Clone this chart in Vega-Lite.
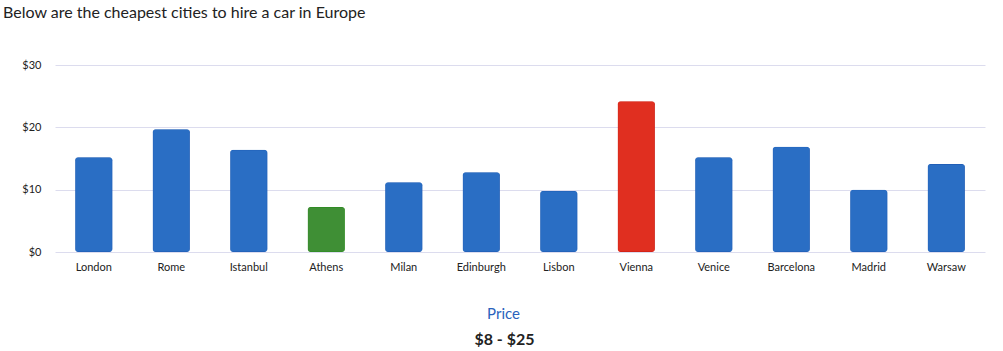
{
  "$schema": "https://vega.github.io/schema/vega-lite/v6.json",
  "width": 930,
  "height": 187,
  "padding": {"left": 3, "top": 5, "right": 18, "bottom": 0},
  "title": {"text": "Below are the cheapest cities to hire a car in Europe", "anchor": "start", "frame": "group", "dx": -52, "font": "Lato", "fontSize": 16, "fontWeight": "normal", "color": "#222222", "offset": 38},
  "data": {"values": [
    {"city": "London", "price": 15.2, "group": "normal"},
    {"city": "Rome", "price": 19.7, "group": "normal"},
    {"city": "Istanbul", "price": 16.4, "group": "normal"},
    {"city": "Athens", "price": 7.2, "group": "cheapest"},
    {"city": "Milan", "price": 11.2, "group": "normal"},
    {"city": "Edinburgh", "price": 12.8, "group": "normal"},
    {"city": "Lisbon", "price": 9.8, "group": "normal"},
    {"city": "Vienna", "price": 24.2, "group": "priciest"},
    {"city": "Venice", "price": 15.2, "group": "normal"},
    {"city": "Barcelona", "price": 16.9, "group": "normal"},
    {"city": "Madrid", "price": 10.0, "group": "normal"},
    {"city": "Warsaw", "price": 14.1, "group": "normal"}
  ]},
  "config": {"view": {"stroke": null}, "font": "Lato"},
  "layer": [
    {
      "mark": {"type": "bar", "cornerRadius": 3, "strokeWidth": 1},
      "encoding": {
        "x": {"field": "city", "type": "nominal", "sort": null,
          "scale": {"paddingInner": 0.52, "paddingOuter": 0.26},
          "axis": {"orient": "bottom", "labelAngle": 0, "labelFont": "Lato", "labelFontSize": 11, "labelColor": "#222222", "labelPadding": 9, "ticks": false, "domain": false,
            "title": "Price", "titleFont": "Lato", "titleFontSize": 15, "titleFontWeight": "normal", "titleColor": "#2a62bd", "titlePadding": 34, "titleX": 448}},
        "y": {"field": "price", "type": "quantitative", "scale": {"domain": [0, 30]},
          "axis": {"values": [0, 10, 20, 30], "format": "$,.0f", "title": null, "domain": false, "ticks": false, "labelPadding": 14, "labelFont": "Lato", "labelFontSize": 11, "labelColor": "#222222", "gridColor": "#dcdcee", "gridWidth": 1}},
        "color": {"field": "group", "type": "nominal", "legend": null,
          "scale": {"domain": ["normal", "cheapest", "priciest"], "range": ["#2a6ec4", "#3f8f35", "#e02f20"]}},
        "stroke": {"field": "group", "type": "nominal", "legend": null,
          "scale": {"domain": ["normal", "cheapest", "priciest"], "range": ["#1c58b0", "#2a8a1c", "#c81a10"]}}
      }
    },
    {
      "mark": {"type": "bar", "opacity": 0},
      "encoding": {
        "x": {"field": "city", "type": "nominal", "sort": null,
          "axis": {"orient": "bottom", "offset": 79, "labels": false, "ticks": false, "domain": false, "grid": false,
            "title": "$8 - $25", "titleFont": "Lato", "titleFontSize": 16, "titleFontWeight": "bold", "titleColor": "#222222", "titlePadding": 0, "titleX": 449}},
        "y": {"field": "price", "type": "quantitative"}
      }
    }
  ],
  "resolve": {"scale": {"x": "independent"}, "axis": {"x": "independent"}}
}
